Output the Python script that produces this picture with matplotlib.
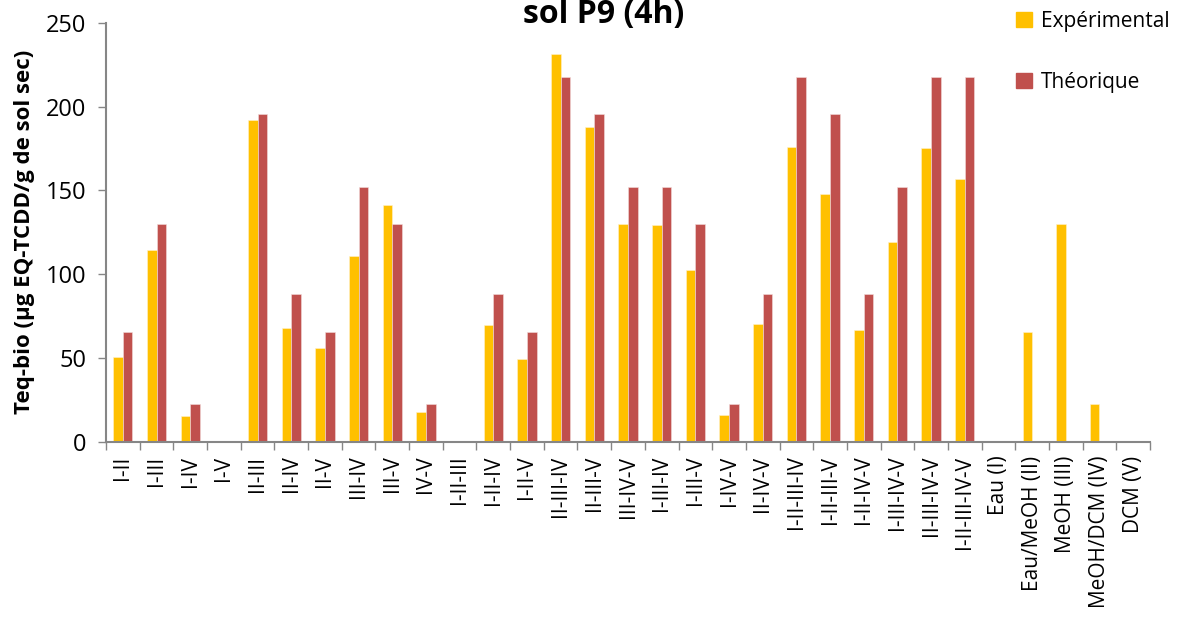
import numpy as np
import matplotlib
matplotlib.use("Agg")
import matplotlib.pyplot as plt
from matplotlib.patches import Patch

plt.rcParams["font.family"] = ["Open Sans", "DejaVu Sans"]

categories = [
    "I-II", "I-III", "I-IV", "I-V", "II-III", "II-IV", "II-V", "III-IV", "III-V",
    "IV-V", "I-II-III", "I-II-IV", "I-II-V", "II-III-IV", "II-III-V", "III-IV-V",
    "I-III-IV", "I-III-V", "I-IV-V", "II-IV-V", "I-II-III-IV", "I-II-III-V",
    "I-II-IV-V", "I-III-IV-V", "II-III-IV-V", "I-II-III-IV-V",
    "Eau (I)", "Eau/MeOH (II)", "MeOH (III)", "MeOH/DCM (IV)", "DCM (V)",
]
experimental = [
    50.6, 114.6, 15.1, 0, 191.9, 67.9, 55.7, 111.1, 141.3,
    17.5, 0, 69.9, 49.2, 231.5, 187.9, 130.0,
    129.2, 102.3, 15.9, 70.5, 175.8, 147.7,
    66.5, 119.0, 175.6, 156.8,
    0, 65.5, 129.8, 22.3, 0,
]
theoretical = [
    65.7, 129.8, 22.3, 0, 195.7, 88.0, 65.7, 152.1, 129.8,
    22.3, 0, 88.0, 65.7, 218.0, 195.7, 152.1,
    152.1, 129.8, 22.3, 88.0, 218.0, 195.7,
    88.0, 152.1, 218.0, 218.0,
    0, 0, 0, 0, 0,
]

C_EXP = "#FFC000"
C_TH = "#C0504D"
GREY = "#868686"

fig = plt.figure(figsize=(11.87, 6.17), dpi=100)
ax = fig.add_axes([106 / 1187, 1 - 441.7 / 617, (1150 - 106) / 1187, (441.7 - 23) / 617])

x = np.arange(len(categories))
w = 0.285
ax.bar(x - w / 2, experimental, w, color=C_EXP, edgecolor="#FFF2CC", linewidth=0.4)
ax.bar(x + w / 2, theoretical, w, color=C_TH, edgecolor="#F2DCDB", linewidth=0.4)

ax.set_xlim(-0.5, len(categories) - 0.5)
ax.set_ylim(0, 250)
ax.set_yticks(np.arange(0, 251, 50))
ax.tick_params(axis="y", labelsize=17, length=6, width=1, color=GREY, pad=8)

ax.set_xticks(np.arange(-0.5, len(categories)), labels=[])
ax.set_xticks(x, labels=categories, minor=True)
ax.tick_params(axis="x", which="major", length=6, width=1, color=GREY)
ax.tick_params(axis="x", which="minor", length=0, labelsize=15, rotation=90, pad=10)

for side in ("top", "right"):
    ax.spines[side].set_visible(False)
for side in ("left", "bottom"):
    ax.spines[side].set_color(GREY)
    ax.spines[side].set_linewidth(1.5)

ax.set_ylabel("Teq-bio (µg EQ-TCDD/g de sol sec)", fontsize=16, fontweight="bold", labelpad=8)

fig.text(604 / 1187, 1 - 23 / 617, "sol P9 (4h)", ha="center", va="baseline",
         fontsize=23, fontweight="bold")

handles = [Patch(color=C_EXP, label="Expérimental"), Patch(color=C_TH, label="Théorique")]
fig.legend(handles=handles, loc="upper left", bbox_to_anchor=(1016 / 1187, 1 - 11 / 617),
           frameon=False, fontsize=15, handlelength=0.75, handleheight=0.75,
           handletextpad=0.45, labelspacing=1.9, borderpad=0, borderaxespad=0)

fig.savefig("out.png", dpi=100, facecolor="white")
